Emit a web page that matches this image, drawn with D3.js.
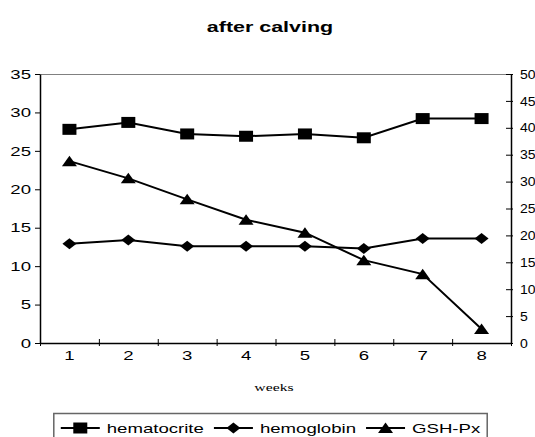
<!DOCTYPE html>
<html>
<head>
<meta charset="utf-8">
<script src="https://cdn.jsdelivr.net/npm/d3@7"></script>
<style>
  html, body { margin: 0; padding: 0; background: #fff; overflow: hidden; }
  svg { display: block; }
</style>
</head>
<body>
<svg id="chart" width="535" height="437"></svg>
<script>
// ---- data ----
const weeks = ["1", "2", "3", "4", "5", "6", "7", "8"];
const hematocrite = [27.8, 28.7, 27.2, 26.9, 27.2, 26.7, 29.2, 29.2];
const hemoglobin  = [12.9, 13.4, 12.6, 12.6, 12.6, 12.3, 13.6, 13.6];
const gshPx       = [33.8, 30.6, 26.7, 22.9, 20.5, 15.4, 12.8, 2.6];
const leftTicks  = [0, 5, 10, 15, 20, 25, 30, 35];
const rightTicks = [0, 5, 10, 15, 20, 25, 30, 35, 40, 45, 50];
const seriesNames = ["hematocrite", "hemoglobin", "GSH-Px"];
const titleText = "after calving";
const xTitle = "weeks";

// ---- layout ----
const W = 535, H = 437;
const SX = 1.43; // horizontal stretch of the original picture
const plot = { left: 40, right: 511, top: 74, bottom: 343 };
const svg = d3.select("#chart");
const FONT = "'Liberation Sans', Arial, sans-serif";

const x = d3.scaleBand().domain(weeks).range([plot.left, plot.right]).paddingInner(0).paddingOuter(0);
const yL = d3.scaleLinear().domain([0, 35]).range([plot.bottom, plot.top]);
const yR = d3.scaleLinear().domain([0, 50]).range([plot.bottom, plot.top]);
const cx = d => x(d) + x.bandwidth() / 2;

function stretchText(sel, sx) {
  const k = sx || SX;
  sel.each(function () {
    const t = d3.select(this);
    const tx = +t.attr("x") || 0;
    const ty = +t.attr("y") || 0;
    t.attr("x", 0).attr("y", 0)
     .attr("transform", `translate(${tx},${ty}) scale(${k},1)`);
  });
}

// title
svg.append("text")
  .attr("x", 270).attr("y", 32)
  .attr("text-anchor", "middle")
  .attr("font-family", FONT).attr("font-weight", "bold").attr("font-size", 15)
  .text(titleText)
  .call(stretchText);

// plot area top border
svg.append("line")
  .attr("x1", plot.left).attr("x2", plot.right)
  .attr("y1", plot.top + 0.5).attr("y2", plot.top + 0.5)
  .attr("stroke", "#808080").attr("stroke-width", 1);

// left axis
const gL = svg.append("g").attr("transform", `translate(${plot.left},0)`)
  .call(d3.axisLeft(yL).tickValues(leftTicks).tickSize(5).tickPadding(4).tickSizeOuter(0));
// right axis (cross ticks)
const gR = svg.append("g").attr("transform", `translate(${plot.right},0)`)
  .call(d3.axisRight(yR).tickValues(rightTicks).tickSize(2).tickPadding(7).tickSizeOuter(0));
gR.selectAll(".tick line").attr("x1", -5).attr("x2", 2);
// bottom axis: ticks at category boundaries, crossing
const gB = svg.append("g").attr("transform", `translate(0,${plot.bottom})`)
  .call(d3.axisBottom(x).tickSize(0).tickPadding(8).tickSizeOuter(0));
const boundaries = weeks.map(w => x(w)).concat([plot.right]);
gB.selectAll(".bt").data(boundaries).enter().append("line")
  .attr("class", "bt")
  .attr("x1", d => d + 0.5).attr("x2", d => d + 0.5)
  .attr("y1", -4).attr("y2", 3)
  .attr("stroke", "#000");

[gL, gR, gB].forEach(g => {
  g.selectAll(".domain").attr("stroke", "#000").attr("stroke-width", 1.5);
  g.selectAll(".tick line").attr("stroke", "#000");
  g.selectAll(".tick text").attr("font-family", FONT).attr("font-size", 13).attr("fill", "#000");
});
gL.selectAll(".tick text").call(stretchText);
gB.selectAll(".tick text").call(stretchText);
// right labels sit at the picture's edge: keep them readable inside the frame
gR.selectAll(".tick text").call(stretchText, 1.08);

// x axis title
svg.append("text")
  .attr("x", 274).attr("y", 391)
  .attr("text-anchor", "middle")
  .attr("font-family", "'Liberation Serif', 'Times New Roman', serif").attr("font-size", 11)
  .text(xTitle)
  .call(stretchText);

// markers (already stretched horizontally)
const markerPath = {
  square: "M-7,-5.5H7V5.5H-7Z",
  diamond: "M0,-5.5L7,0L0,5.5L-7,0Z",
  triangle: "M0,-5.5L7.5,5H-7.5Z"
};

const series = [
  { name: seriesNames[0], values: hematocrite, scale: yL, marker: "square" },
  { name: seriesNames[1], values: hemoglobin, scale: yL, marker: "diamond" },
  { name: seriesNames[2], values: gshPx, scale: yR, marker: "triangle" }
];

series.forEach(s => {
  const line = d3.line().x((d, i) => cx(weeks[i])).y(d => s.scale(d));
  svg.append("path").datum(s.values)
    .attr("d", line).attr("fill", "none")
    .attr("stroke", "#000").attr("stroke-width", 2);
  svg.selectAll(null).data(s.values).enter().append("path")
    .attr("transform", (d, i) => `translate(${cx(weeks[i])},${s.scale(d)})`)
    .attr("d", markerPath[s.marker]).attr("fill", "#000");
});

// legend
const legend = svg.append("g");
const legBox = legend.append("rect")
  .attr("fill", "#fff").attr("stroke", "#666").attr("stroke-width", 1.5);
const LINE = 39, GAP = 7, SEP = 10, PAD = 7;
let lx = 0;
series.forEach(s => {
  const g = legend.append("g").attr("transform", `translate(${lx},0)`);
  g.append("line").attr("x1", 0).attr("x2", LINE).attr("y1", 0).attr("y2", 0)
    .attr("stroke", "#000").attr("stroke-width", 2);
  g.append("path").attr("transform", `translate(${LINE / 2},0)`).attr("d", markerPath[s.marker]).attr("fill", "#000");
  const t = g.append("text").attr("x", LINE + GAP).attr("y", 4.5)
    .attr("font-family", FONT).attr("font-size", 13).text(s.name);
  const len = t.node().getComputedTextLength() * SX;
  t.call(stretchText);
  lx += LINE + GAP + len + SEP;
});
const inner = lx - SEP;
const legW = inner + 2 * PAD;
const legX = (W - legW) / 2 + PAD + 3, legY = 428;
legend.attr("transform", `translate(${legX},${legY})`);
legBox.attr("x", -PAD).attr("y", -14.5).attr("width", legW).attr("height", 30);
</script>
</body>
</html>
